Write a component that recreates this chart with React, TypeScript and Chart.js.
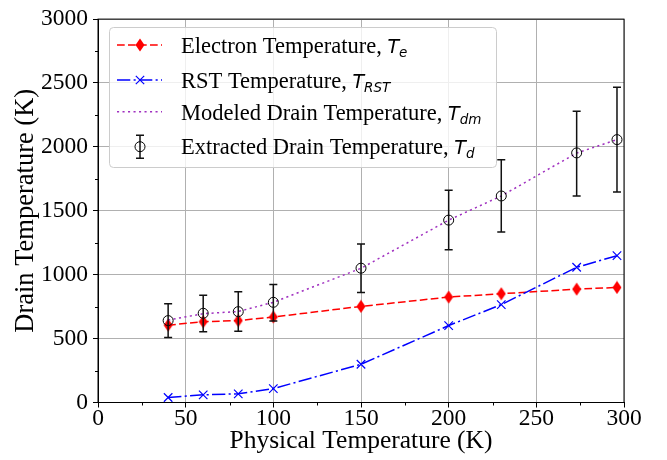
import { useEffect, useRef } from 'react';
import { Chart, registerables } from 'chart.js';

Chart.register(...registerables);

// ---- data ----
const physicalTemps = [40, 60, 80, 100, 150, 200, 230, 273, 296];
const electronTemps = [605, 632, 641, 669, 752, 825, 851, 887, 900];
const rstTemps = [39, 60, 68, 109, 299, 602, 766, 1058, 1149];
const modeledTemps = [645, 695, 712, 784, 1050, 1427, 1616, 1952, 2057];
const extractedTemps = [641, 698, 711, 784, 1051, 1427, 1616, 1953, 2057];
const extractedLow = [509, 553, 558, 638, 861, 1196, 1334, 1616, 1647];
const extractedHigh = [773, 840, 867, 924, 1240, 1661, 1899, 2278, 2467];

const xMinorTicks = [25, 75, 125, 175, 225, 275];
const yMinorTicks = [250, 750, 1250, 1750, 2250, 2750];

const legendLabels = [
  'Electron Temperature, ',
  'RST Temperature, ',
  'Modeled Drain Temperature, ',
  'Extracted Drain Temperature, ',
];
const legendSubs = ['e', 'RST', 'dm', 'd'];

const RED = '#ff0000';
const BLUE = '#0000ff';
const PURPLE = '#a030c0';
const SERIF = '"Liberation Serif", "Times New Roman", serif';
const MATH = '"DejaVu Sans", sans-serif';

function makeDiamond(): HTMLCanvasElement {
  const c = document.createElement('canvas');
  c.width = 10;
  c.height = 14;
  const g = c.getContext('2d')!;
  g.fillStyle = RED;
  g.beginPath();
  g.moveTo(5, 0.5);
  g.lineTo(9.5, 7);
  g.lineTo(5, 13.5);
  g.lineTo(0.5, 7);
  g.closePath();
  g.fill();
  return c;
}

const pts = (ys: number[]) => physicalTemps.map((x, i) => ({ x, y: ys[i] }));

export default function App() {
  const ref = useRef<HTMLCanvasElement | null>(null);

  useEffect(() => {
    document.body.style.margin = '0';
    const canvas = ref.current!;
    const diamond = makeDiamond();

    const errorBars = {
      id: 'errorBars',
      afterDatasetsDraw(chart: any) {
        const { ctx, scales } = chart;
        const xs = scales.x, ys = scales.y;
        ctx.save();
        ctx.strokeStyle = '#111';
        ctx.lineWidth = 1.5;
        physicalTemps.forEach((t, i) => {
          const px = xs.getPixelForValue(t);
          const top = ys.getPixelForValue(extractedHigh[i]);
          const bot = ys.getPixelForValue(extractedLow[i]);
          ctx.beginPath();
          ctx.moveTo(px, top);
          ctx.lineTo(px, bot);
          ctx.moveTo(px - 4, top);
          ctx.lineTo(px + 4, top);
          ctx.moveTo(px - 4, bot);
          ctx.lineTo(px + 4, bot);
          ctx.stroke();
        });
        // frame
        const a = chart.chartArea;
        ctx.strokeStyle = 'black';
        ctx.lineWidth = 1;
        ctx.strokeRect(a.left, a.top, a.right - a.left, a.bottom - a.top);
        // minor ticks
        ctx.beginPath();
        xMinorTicks.forEach((v) => {
          const px = Math.round(xs.getPixelForValue(v)) + 0.5;
          ctx.moveTo(px, a.bottom);
          ctx.lineTo(px, a.bottom + 3);
        });
        yMinorTicks.forEach((v) => {
          const py = Math.round(ys.getPixelForValue(v)) + 0.5;
          ctx.moveTo(a.left, py);
          ctx.lineTo(a.left - 3, py);
        });
        ctx.stroke();
        ctx.restore();
      },
    };

    const legendPlugin = {
      id: 'customLegend',
      afterDraw(chart: any) {
        const { ctx } = chart;
        ctx.save();
        const bx = 109.5, by = 27.5, bw = 387, bh = 140, r = 4;
        ctx.beginPath();
        ctx.moveTo(bx + r, by);
        ctx.lineTo(bx + bw - r, by);
        ctx.arcTo(bx + bw, by, bx + bw, by + r, r);
        ctx.lineTo(bx + bw, by + bh - r);
        ctx.arcTo(bx + bw, by + bh, bx + bw - r, by + bh, r);
        ctx.lineTo(bx + r, by + bh);
        ctx.arcTo(bx, by + bh, bx, by + bh - r, r);
        ctx.lineTo(bx, by + r);
        ctx.arcTo(bx, by, bx + r, by, r);
        ctx.closePath();
        ctx.fillStyle = 'rgba(255,255,255,0.8)';
        ctx.fill();
        ctx.strokeStyle = '#cccccc';
        ctx.lineWidth = 1;
        ctx.stroke();

        const baselines = [53.3, 88.3, 120, 154.3];
        const centers = [45, 80, 111.7, 146.7];
        const hx0 = 117, hx1 = 162, hm = 140;

        // handle 1
        ctx.strokeStyle = RED;
        ctx.lineWidth = 1.5;
        ctx.setLineDash([7.7, 3.3]);
        ctx.beginPath();
        ctx.moveTo(hx0, centers[0]);
        ctx.lineTo(hx1, centers[0]);
        ctx.stroke();
        ctx.setLineDash([]);
        ctx.drawImage(diamond, hm - 5, centers[0] - 7);
        // handle 2
        ctx.strokeStyle = BLUE;
        ctx.setLineDash([13.3, 3.3, 2.1, 3.3]);
        ctx.beginPath();
        ctx.moveTo(hx0, centers[1]);
        ctx.lineTo(hx1, centers[1]);
        ctx.stroke();
        ctx.setLineDash([]);
        ctx.lineWidth = 1.2;
        ctx.beginPath();
        ctx.moveTo(hm - 4.2, centers[1] - 4.2);
        ctx.lineTo(hm + 4.2, centers[1] + 4.2);
        ctx.moveTo(hm - 4.2, centers[1] + 4.2);
        ctx.lineTo(hm + 4.2, centers[1] - 4.2);
        ctx.stroke();
        // handle 3
        ctx.strokeStyle = PURPLE;
        ctx.lineWidth = 1.5;
        ctx.setLineDash([2.1, 3.4]);
        ctx.beginPath();
        ctx.moveTo(hx0, centers[2]);
        ctx.lineTo(hx1, centers[2]);
        ctx.stroke();
        ctx.setLineDash([]);
        // handle 4
        ctx.strokeStyle = '#111';
        ctx.lineWidth = 1.5;
        ctx.beginPath();
        ctx.moveTo(hm, centers[3] - 11.5);
        ctx.lineTo(hm, centers[3] + 11.5);
        ctx.moveTo(hm - 4, centers[3] - 11.5);
        ctx.lineTo(hm + 4, centers[3] - 11.5);
        ctx.moveTo(hm - 4, centers[3] + 11.5);
        ctx.lineTo(hm + 4, centers[3] + 11.5);
        ctx.stroke();
        ctx.lineWidth = 1;
        ctx.strokeStyle = 'black';
        ctx.beginPath();
        ctx.arc(hm, centers[3], 5, 0, Math.PI * 2);
        ctx.stroke();

        // texts
        ctx.fillStyle = 'black';
        ctx.textBaseline = 'alphabetic';
        ctx.textAlign = 'left';
        legendLabels.forEach((label, i) => {
          const x = 181;
          const b = baselines[i];
          ctx.font = `22.5px ${SERIF}`;
          ctx.fillText(label, x, b);
          let w = ctx.measureText(label).width;
          ctx.font = `oblique 19px ${MATH}`;
          ctx.fillText('T', x + w, b);
          w += ctx.measureText('T').width;
          ctx.font = `oblique 13.5px ${MATH}`;
          ctx.fillText(legendSubs[i], x + w, b + 3.5);
        });
        ctx.restore();
      },
    };

    const tickFont = { family: SERIF, size: 23.5 };

    const chart = new Chart(canvas, {
      type: 'line',
      data: {
        datasets: [
          {
            label: 'Electron Temperature',
            data: pts(electronTemps),
            borderColor: RED,
            backgroundColor: RED,
            borderWidth: 1.5,
            borderDash: [7.7, 3.3],
            pointStyle: diamond as any,
            pointRadius: 5,
            order: 3,
          },
          {
            label: 'RST Temperature',
            data: pts(rstTemps),
            borderColor: BLUE,
            backgroundColor: BLUE,
            borderWidth: 1.5,
            borderDash: [13.3, 3.3, 2.1, 3.3],
            pointStyle: 'crossRot',
            pointRadius: 6,
            pointBorderWidth: 1.2,
            order: 2,
          },
          {
            label: 'Modeled Drain Temperature',
            data: pts(modeledTemps),
            borderColor: PURPLE,
            borderWidth: 1.5,
            borderDash: [2.1, 3.4],
            pointRadius: 0,
            order: 1,
          },
          {
            label: 'Extracted Drain Temperature',
            data: pts(extractedTemps),
            showLine: false,
            borderColor: 'black',
            backgroundColor: 'rgba(0,0,0,0)',
            pointStyle: 'circle',
            pointRadius: 5,
            pointBorderWidth: 1,
            order: 0,
          },
        ],
      },
      options: {
        animation: false,
        responsive: false,
        devicePixelRatio: 1,
        layout: { padding: { top: 16, right: 43, left: 0, bottom: 0 } },
        plugins: { legend: { display: false }, tooltip: { enabled: false } },
        scales: {
          x: {
            type: 'linear',
            min: 0,
            max: 300,
            ticks: { stepSize: 50, color: 'black', font: tickFont, padding: -3, maxRotation: 0, autoSkip: false, callback: (v: any) => String(v) },
            grid: { color: '#b0b0b0', lineWidth: 1, tickColor: 'black', tickLength: 5, tickWidth: 1 },
            border: { display: true, color: 'black', width: 1 },
            title: { display: true, text: 'Physical Temperature (K)', color: 'black', font: { family: SERIF, size: 25.5 }, padding: { top: 0, bottom: 3 } },
            afterFit: (s: any) => { s.height = 57.5; },
          },
          y: {
            type: 'linear',
            min: 0,
            max: 3000,
            ticks: { stepSize: 500, color: 'black', font: tickFont, padding: 5, autoSkip: false, callback: (v: any) => String(v) },
            grid: { color: '#b0b0b0', lineWidth: 1, tickColor: 'black', tickLength: 5, tickWidth: 1 },
            border: { display: true, color: 'black', width: 1 },
            title: { display: true, text: 'Drain Temperature (K)', color: 'black', font: { family: SERIF, size: 26.5 }, padding: { top: 10.5, bottom: 0 } },
            afterFit: (s: any) => { s.width = 98; },
          },
        },
      },
      plugins: [errorBars, legendPlugin],
    });

    return () => chart.destroy();
  }, []);

  return (
    <div style={{ width: 667, height: 460 }}>
      <canvas ref={ref} width={667} height={460} />
    </div>
  );
}
